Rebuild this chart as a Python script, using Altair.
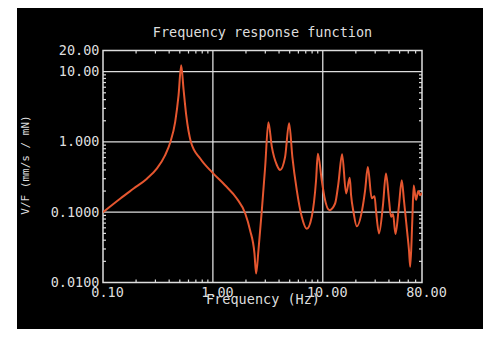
import altair as alt
import pandas as pd

# ---- data ----
freq = [0.1, 0.144, 0.19, 0.251, 0.31, 0.368, 0.409, 0.454, 0.487, 0.515,
        0.54, 0.572, 0.631, 0.767, 1.0, 1.29, 1.65, 1.97, 2.18, 2.39,
        2.475, 2.6, 2.79, 2.99, 3.2, 3.44, 3.82, 4.09, 4.54, 4.94,
        5.29, 5.8, 6.44, 7.16, 7.94, 8.69, 9.02, 9.79, 10.35, 11.5,
        12.95, 13.87, 15.0, 16.3, 17.6, 18.1, 19.05, 20.4, 22.8, 24.3,
        25.7, 27.9, 29.6, 30.5, 32.5, 35.3, 37.6, 40.1, 41.8, 43.6,
        45.9, 49.4, 52.3, 54.8, 58.4, 60.9, 62.5, 65.3, 67.2, 70.5,
        74.0, 77.0, 80.0]
response = [0.10, 0.157, 0.217, 0.30, 0.42, 0.65, 0.98, 1.93, 4.6, 12.3,
            5.75, 2.4, 1.0, 0.58, 0.36, 0.242, 0.157, 0.096, 0.0555, 0.026,
            0.0134, 0.029, 0.107, 0.44, 1.9, 0.85, 0.47, 0.40, 0.61, 1.85,
            0.61, 0.206, 0.086, 0.058, 0.086, 0.285, 0.68, 0.285, 0.165, 0.107,
            0.133, 0.256, 0.67, 0.185, 0.31, 0.175, 0.10, 0.063, 0.107, 0.206,
            0.44, 0.158, 0.169, 0.107, 0.05, 0.126, 0.355, 0.148, 0.086, 0.094,
            0.049, 0.126, 0.285, 0.148, 0.0555, 0.0288, 0.0167, 0.077, 0.24, 0.15,
            0.20, 0.175, 0.19]

title_text = "Frequency response function"
x_ticks = [0.1, 1, 10, 80]
x_tick_text = ["0.10", "1.00", "10.00", "80.00"]
y_ticks = [0.01, 0.1, 1, 10, 20]
y_tick_text = ["0.0100", "0.1000", "1.000", "10.00", "20.00"]
x_grid = [1, 10]
y_grid = [0.1, 1, 10]
x_minor = [0.2, 0.3, 0.4, 0.5, 0.6, 0.7, 0.8, 0.9,
           2, 3, 4, 5, 6, 7, 8, 9,
           20, 30, 40, 50, 60, 70]
y_minor = [0.02, 0.03, 0.04, 0.05, 0.06, 0.07, 0.08, 0.09,
           0.2, 0.3, 0.4, 0.5, 0.6, 0.7, 0.8, 0.9,
           2, 3, 4, 5, 6, 7, 8, 9]

# ---- style ----
W, H = 319, 232
PAD = {"left": 95, "top": 42.5, "right": 61, "bottom": 46.5}
FG = "#dedede"
LINE = "#E5562F"
FONT = "DejaVu Sans Mono"

xscale = alt.Scale(type="log", domain=[0.1, 80], nice=False)
yscale = alt.Scale(type="log", domain=[0.01, 20], nice=False)


def label_expr(vals, texts):
    expr = "''"
    for v, t in reversed(list(zip(vals, texts))):
        expr = f"datum.value == {v} ? '{t}' : ({expr})"
    return expr


xaxis = alt.Axis(values=x_ticks, labelExpr=label_expr(x_ticks, x_tick_text),
                 title="Frequency (Hz)", grid=False, ticks=False, domain=False,
                 labelFlush=False, labelPadding=3, labelOffset=4,
                 labelFont=FONT, labelFontSize=13.5, labelColor=FG,
                 titleFont=FONT, titleFontSize=13.5, titleColor=FG,
                 titleFontWeight="normal", titleY=21, titleBaseline="alphabetic")
yaxis = alt.Axis(values=y_ticks, labelExpr=label_expr(y_ticks, y_tick_text),
                 title="V/F (mm/s / mN)", grid=False, ticks=False, domain=False,
                 labelFlush=False, labelPadding=4,
                 labelFont=FONT, labelFontSize=13.5, labelColor=FG,
                 titleFont=FONT, titleFontSize=11, titleColor=FG,
                 titleFontWeight="normal", titleAngle=270, titleX=-78, titleY=114,
                 titleBaseline="middle", titleAlign="center")


def X():
    return alt.X("f:Q", scale=xscale, axis=xaxis)


def Y():
    return alt.Y("v:Q", scale=yscale, axis=yaxis)


one = alt.Data(values=[{}])

# white page strip to the left of the black panel
strip = alt.Chart(one).mark_rect(color="white").encode(
    x=alt.value(-PAD["left"]), x2=alt.value(-86),
    y=alt.value(-PAD["top"]), y2=alt.value(H + PAD["bottom"]))

gx = alt.Chart(pd.DataFrame({"f": x_grid})).mark_rule(color=FG, strokeWidth=1.3).encode(x=X())
gy = alt.Chart(pd.DataFrame({"v": y_grid})).mark_rule(color=FG, strokeWidth=1.3).encode(y=Y())

dxm = pd.DataFrame({"f": x_minor})
dym = pd.DataFrame({"v": y_minor})
tick_top = alt.Chart(dxm).mark_rule(color=FG, strokeWidth=1.2).encode(
    x=X(), y=alt.value(0), y2=alt.value(3))
tick_bot = alt.Chart(dxm).mark_rule(color=FG, strokeWidth=1.2).encode(
    x=X(), y=alt.value(H - 3), y2=alt.value(H))
tick_left = alt.Chart(dym).mark_rule(color=FG, strokeWidth=1.2).encode(
    y=Y(), x=alt.value(0), x2=alt.value(3))
tick_right = alt.Chart(dym).mark_rule(color=FG, strokeWidth=1.2).encode(
    y=Y(), x=alt.value(W - 3), x2=alt.value(W))

frame = alt.Chart(one).mark_rect(filled=False, color=FG, strokeWidth=1.5).encode(
    x=alt.value(0), x2=alt.value(W), y=alt.value(0), y2=alt.value(H))

line = alt.Chart(pd.DataFrame({"f": freq, "v": response})).mark_line(
    color=LINE, strokeWidth=2, interpolate="monotone", clip=True).encode(x=X(), y=Y())

title = alt.Chart(alt.Data(values=[{"t": title_text}])).mark_text(
    font=FONT, fontSize=13.5, color=FG, align="center", baseline="alphabetic").encode(
    text="t:N", x=alt.value(W / 2), y=alt.value(-13.2))

chart = alt.layer(strip, gx, gy, tick_top, tick_bot, tick_left, tick_right, frame, line, title).properties(
    width=W, height=H,
    autosize=alt.AutoSizeParams(type="none"),
    padding=PAD,
    background="black",
).configure_view(stroke=None)

chart.save("out.html", embed_options={"renderer": "svg", "actions": False})
